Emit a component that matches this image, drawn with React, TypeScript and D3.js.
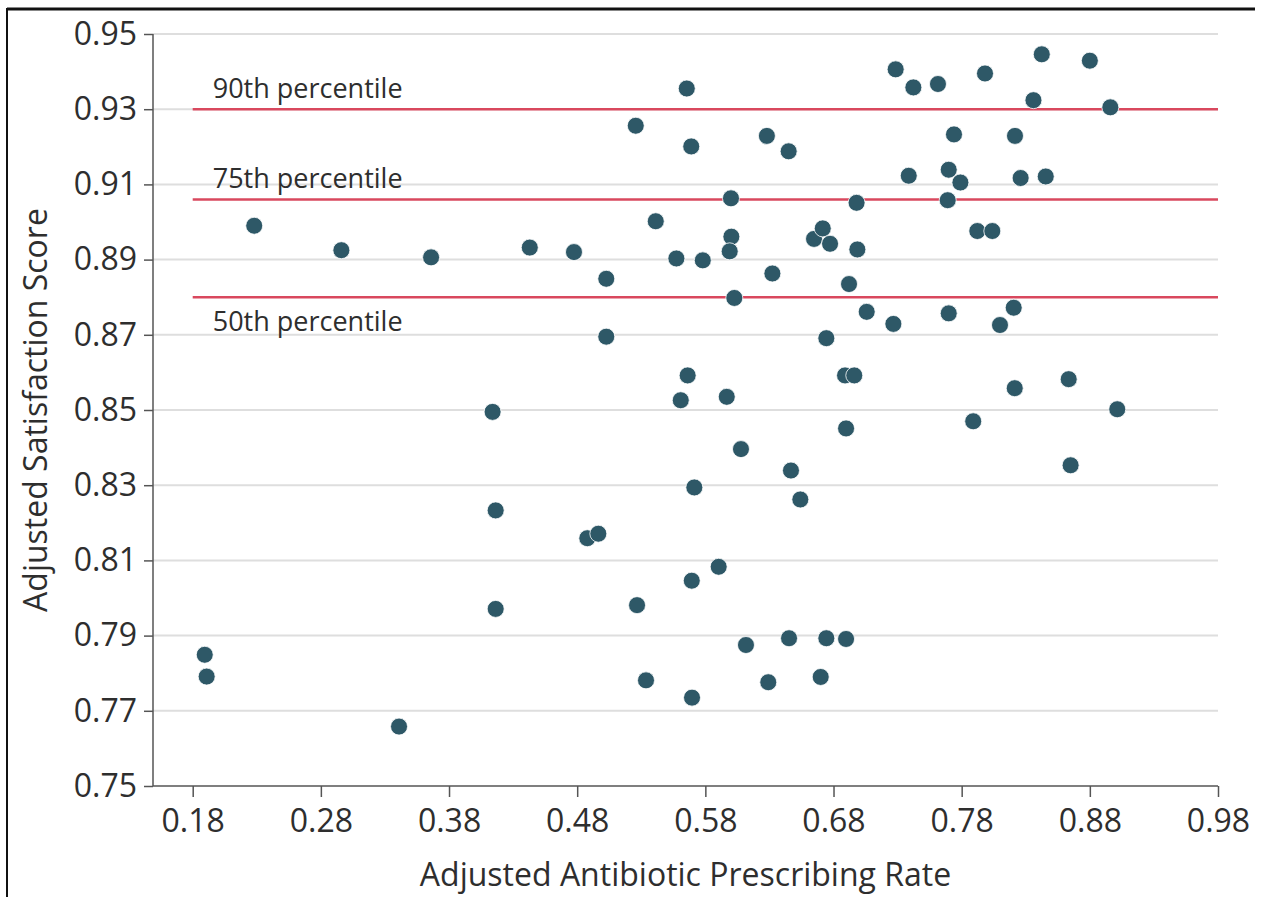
import { useEffect, useRef } from "react";
import * as d3 from "d3";

// ==== data ====
const RATE = [
  0.228, 0.296, 0.366, 0.443, 0.414, 0.5655, 0.5257, 0.569, 0.628, 0.645,
  0.6, 0.698, 0.5413, 0.4775, 0.5027, 0.5574, 0.578, 0.6003, 0.599, 0.6026,
  0.6323, 0.6648, 0.6716, 0.6773, 0.6986, 0.6921, 0.7059, 0.5027, 0.6744, 0.5662,
  0.5608, 0.5967, 0.689, 0.6962, 0.7285, 0.7423, 0.7615, 0.7982, 0.8425, 0.88,
  0.836, 0.896, 0.774, 0.8216, 0.7387, 0.7699, 0.779, 0.826, 0.8456, 0.7691,
  0.7922, 0.8039, 0.7267, 0.7699, 0.8206, 0.8099, 0.8214, 0.8635, 0.9014, 0.789,
  0.865, 0.4164, 0.4164, 0.1894, 0.1909, 0.341, 0.6898, 0.6078, 0.6468, 0.5714,
  0.6541, 0.4879, 0.4965, 0.5904, 0.5694, 0.5267, 0.6117, 0.6453, 0.6744, 0.6898,
  0.5337, 0.5696, 0.6291, 0.67,
];

const SCORE = [
  0.899, 0.8925, 0.8906, 0.8932, 0.8495, 0.9355, 0.9256, 0.9201, 0.9229, 0.9188,
  0.9063, 0.9051, 0.9002, 0.892, 0.8849, 0.8903, 0.8898, 0.8961, 0.8922, 0.8798,
  0.8863, 0.8955, 0.8983, 0.8942, 0.8927, 0.8835, 0.8761, 0.8695, 0.8691, 0.8592,
  0.8526, 0.8535, 0.8592, 0.8592, 0.9406, 0.9358, 0.9367, 0.9395, 0.9446, 0.9429,
  0.9324, 0.9305, 0.9233, 0.9229, 0.9123, 0.9139, 0.9105, 0.9117, 0.9121, 0.9058,
  0.8976, 0.8976, 0.8729, 0.8757, 0.8772, 0.8726, 0.8558, 0.8582, 0.8502, 0.847,
  0.8353, 0.8233, 0.7971, 0.7849, 0.7791, 0.7658, 0.8451, 0.8396, 0.8339, 0.8294,
  0.8262, 0.8159, 0.8171, 0.8083, 0.8046, 0.7981, 0.7875, 0.7893, 0.7893, 0.7891,
  0.7781, 0.7735, 0.7776, 0.779,
];

const X_TICKS = [0.18, 0.28, 0.38, 0.48, 0.58, 0.68, 0.78, 0.88, 0.98];
const Y_TICKS = [0.75, 0.77, 0.79, 0.81, 0.83, 0.85, 0.87, 0.89, 0.91, 0.93, 0.95];

const PCT_LABELS = ["90th percentile", "75th percentile", "50th percentile"];
const PCT_VALUES = [0.93, 0.906, 0.88];

const W = 1263;
const H = 897;
const FONT = "'Open Sans', 'DejaVu Sans', sans-serif";
const DOT = "#2e5867";
const RED = "#d9485e";
const TXT = "#2e2e2e";

export default function App() {
  const svgRef = useRef<SVGSVGElement | null>(null);

  useEffect(() => {
    const svg = d3.select(svgRef.current);
    svg.selectAll("*").remove();

    const x = d3.scaleLinear().domain([0.18, 0.98]).range([192.7, 1218]);
    const y = d3.scaleLinear().domain([0.75, 0.95]).range([786, 34]);
    const x0 = 153;

    // outer frame (top + left)
    svg.append("line")
      .attr("x1", 7).attr("x2", 1255).attr("y1", 9).attr("y2", 9)
      .attr("stroke", "#111").attr("stroke-width", 3);
    svg.append("line")
      .attr("x1", 7).attr("x2", 7).attr("y1", 8).attr("y2", H)
      .attr("stroke", "#111").attr("stroke-width", 2);

    // horizontal grid
    svg.append("g")
      .selectAll("line")
      .data(Y_TICKS.slice(1))
      .join("line")
      .attr("x1", x0)
      .attr("x2", x(0.98))
      .attr("y1", (d) => y(d))
      .attr("y2", (d) => y(d))
      .attr("stroke", "#dedede")
      .attr("stroke-width", 2);

    // percentile reference lines
    svg.append("g")
      .selectAll("line")
      .data(PCT_VALUES)
      .join("line")
      .attr("x1", x(0.18))
      .attr("x2", x(0.98))
      .attr("y1", (d) => y(d))
      .attr("y2", (d) => y(d))
      .attr("stroke", RED)
      .attr("stroke-width", 2.5);

    svg.append("g")
      .selectAll("text")
      .data(PCT_LABELS)
      .join("text")
      .attr("x", x(0.18) + 20)
      .attr("y", (_, i) => (i < 2 ? y(PCT_VALUES[i]) - 11 : y(PCT_VALUES[i]) + 34))
      .attr("font-family", FONT)
      .attr("font-size", 27)
      .attr("fill", TXT)
      .text((d) => d);

    // y axis
    const yAxis = d3.axisLeft(y)
      .tickValues(Y_TICKS)
      .tickSize(9)
      .tickPadding(7)
      .tickFormat(d3.format(".2f"));
    const gy = svg.append("g").attr("transform", `translate(${x0},0)`).call(yAxis);
    gy.select(".domain").attr("stroke", "#555").attr("stroke-width", 1.5)
      .attr("d", `M0,${y(0.95)}V${y(0.75)}`);
    gy.selectAll(".tick line").attr("stroke", "#555").attr("stroke-width", 1.5);
    gy.selectAll(".tick text")
      .attr("font-family", FONT).attr("font-size", 32).attr("fill", TXT);

    // x axis
    const xAxis = d3.axisBottom(x)
      .tickValues(X_TICKS)
      .tickSize(11)
      .tickPadding(12)
      .tickFormat(d3.format(".2f"));
    const gx = svg.append("g").attr("transform", `translate(0,${y(0.75)})`).call(xAxis);
    gx.select(".domain").attr("stroke", "#555").attr("stroke-width", 1.5)
      .attr("d", `M${x0},0H${x(0.98)}`);
    gx.selectAll(".tick line").attr("stroke", "#555").attr("stroke-width", 1.5);
    gx.selectAll(".tick text")
      .attr("font-family", FONT).attr("font-size", 32).attr("fill", TXT);

    // points
    svg.append("g")
      .selectAll("circle")
      .data(RATE.map((r, i) => [r, SCORE[i]]))
      .join("circle")
      .attr("cx", (d) => x(d[0]))
      .attr("cy", (d) => y(d[1]))
      .attr("r", 8.5)
      .attr("fill", DOT)
      .attr("stroke", "#fff")
      .attr("stroke-width", 0.8);

    // axis titles
    svg.append("text")
      .attr("x", (x0 + x(0.98)) / 2)
      .attr("y", 886)
      .attr("text-anchor", "middle")
      .attr("font-family", FONT)
      .attr("font-size", 32)
      .attr("fill", TXT)
      .text("Adjusted Antibiotic Prescribing Rate");

    svg.append("text")
      .attr("transform", `translate(47,${(y(0.95) + y(0.75)) / 2}) rotate(-90)`)
      .attr("text-anchor", "middle")
      .attr("font-family", FONT)
      .attr("font-size", 32)
      .attr("fill", TXT)
      .text("Adjusted Satisfaction Score");
  }, []);

  return (
    <div style={{ position: "fixed", left: 0, top: 0, background: "#fff" }}>
      <svg ref={svgRef} width={W} height={H} style={{ display: "block" }} />
    </div>
  );
}
